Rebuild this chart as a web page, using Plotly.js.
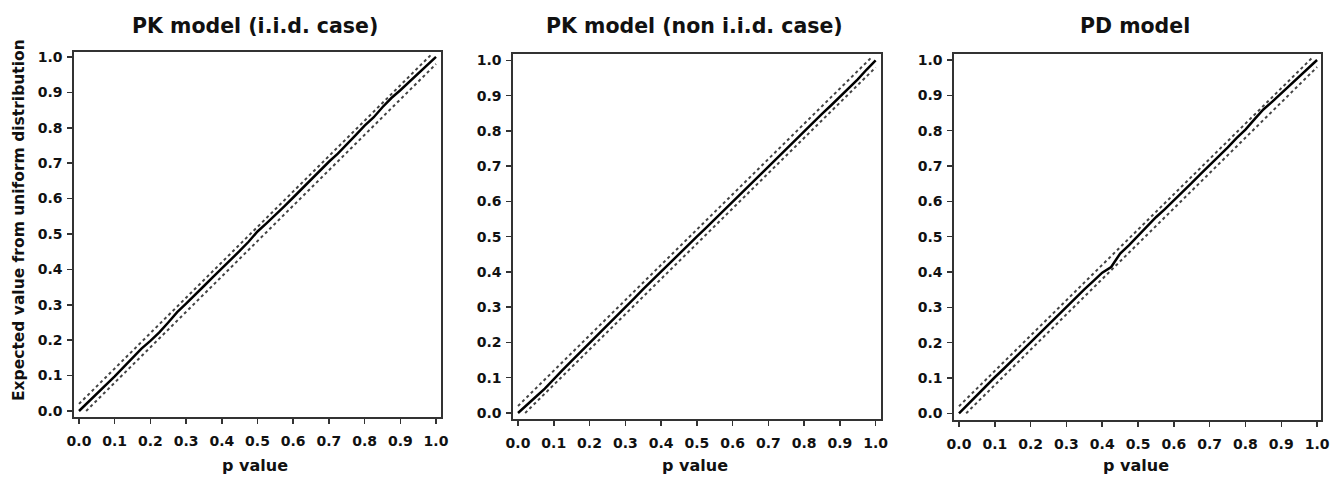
<!DOCTYPE html>
<html>
<head>
<meta charset="utf-8">
<script src="https://cdn.plot.ly/plotly-3.0.1.min.js"></script>
<style>html,body{margin:0;padding:0;background:#fff;}#chart{width:1338px;height:479px;}</style>
</head>
<body>
<div id="chart"></div>
<script>
// ---- data ----
const panelTitles = ["PK model (i.i.d. case)", "PK model (non i.i.d. case)", "PD model"];
const xTitle = "p value";
const yTitle = "Expected value from uniform distribution";

const pValues = [0,0.025,0.05,0.075,0.1,0.125,0.15,0.175,0.2,0.225,0.25,0.275,0.3,0.325,0.35,0.375,0.4,0.425,0.45,0.475,0.5,0.525,0.55,0.575,0.6,0.625,0.65,0.675,0.7,0.725,0.75,0.775,0.8,0.825,0.85,0.875,0.9,0.925,0.95,0.975,1];

const pkIid = [0,0.024,0.049,0.073,0.098,0.124,0.150,0.176,0.198,0.222,0.250,0.279,0.303,0.327,0.353,0.378,0.402,0.426,0.452,0.478,0.507,0.530,0.553,0.578,0.603,0.629,0.653,0.679,0.704,0.727,0.752,0.779,0.806,0.829,0.858,0.884,0.906,0.929,0.953,0.976,1.0];

const pkNonIid = [0,0.022,0.046,0.069,0.097,0.122,0.148,0.173,0.198,0.224,0.249,0.274,0.299,0.325,0.351,0.376,0.402,0.428,0.451,0.475,0.500,0.524,0.549,0.575,0.600,0.625,0.650,0.676,0.701,0.725,0.750,0.775,0.799,0.823,0.848,0.872,0.897,0.920,0.946,0.974,1.0];

const pdModel = [0,0.026,0.052,0.077,0.102,0.126,0.151,0.176,0.202,0.227,0.253,0.278,0.302,0.326,0.351,0.374,0.398,0.414,0.452,0.476,0.503,0.530,0.555,0.578,0.602,0.628,0.652,0.678,0.703,0.726,0.752,0.779,0.803,0.832,0.860,0.882,0.906,0.929,0.953,0.976,1.0];

const upperX = [0, 0.99];
const upperY = [0.02, 1.01];
const lowerX = [0.02, 1.0];
const lowerY = [0, 0.98];

const tickVals = [0,0.1,0.2,0.3,0.4,0.5,0.6,0.7,0.8,0.9,1.0];
const tickLabels = ["0.0","0.1","0.2","0.3","0.4","0.5","0.6","0.7","0.8","0.9","1.0"];

// ---- layout geometry (pixels) ----
const W = 1338, H = 479;
const panels = [
  {l:74, r:441, t:52, b:417, xr:[-0.014,1.014], yr:[-0.017,1.014], series:pkIid},
  {l:513, r:881, t:54, b:419, xr:[-0.014,1.015], yr:[-0.017,1.018], series:pkNonIid},
  {l:954, r:1321, t:54, b:420, xr:[-0.014,1.011], yr:[-0.019,1.017], series:pdModel}
];

const FONT = "DejaVu Sans, Arial, sans-serif";
const traces = [];
const layout = {
  width: W, height: H,
  margin: {l:0, r:0, t:0, b:0},
  paper_bgcolor: "#fff", plot_bgcolor: "#fff",
  showlegend: false,
  font: {family: FONT, color: "#111"},
  annotations: []
};

panels.forEach((p, i) => {
  const n = i === 0 ? "" : String(i + 1);
  const xa = "x" + n, ya = "y" + n;
  traces.push({x: upperX, y: upperY, xaxis: xa, yaxis: ya, mode: "lines",
    line: {color: "#444", width: 2, dash: "dot"}, hoverinfo: "skip"});
  traces.push({x: lowerX, y: lowerY, xaxis: xa, yaxis: ya, mode: "lines",
    line: {color: "#444", width: 2, dash: "dot"}, hoverinfo: "skip"});
  traces.push({x: pValues, y: p.series, xaxis: xa, yaxis: ya, mode: "lines",
    line: {color: "#000", width: 2.5}});

  const axCommon = {
    showline: true, mirror: true, linecolor: "#333", linewidth: 1.6,
    ticks: "outside", ticklen: 5, tickwidth: 1.5, tickcolor: "#333",
    showgrid: false, zeroline: false, tickvals: tickVals, ticktext: tickLabels,
    tickfont: {family: FONT, size: 14, color: "#111", weight: "bold"},
    fixedrange: true
  };
  layout["xaxis" + n] = Object.assign({}, axCommon, {
    domain: [p.l / W, p.r / W], range: p.xr, anchor: ya,
    ticklabelstandoff: 6
  });
  layout["yaxis" + n] = Object.assign({}, axCommon, {
    domain: [1 - p.b / H, 1 - p.t / H], range: p.yr, anchor: xa,
    ticklabelstandoff: 2
  });

  const cx = (p.l + p.r) / 2 - 3;
  layout.annotations.push({
    text: "<b>" + panelTitles[i] + "</b>", xref: "paper", yref: "paper",
    x: cx / W, y: 1 - 26 / H, xanchor: "center", yanchor: "middle",
    showarrow: false, font: {family: FONT, size: 20.5, color: "#111"}
  });
  layout.annotations.push({
    text: "<b>" + xTitle + "</b>", xref: "paper", yref: "paper",
    x: (cx + 1) / W, y: 1 - 465 / H, xanchor: "center", yanchor: "middle",
    showarrow: false, font: {family: FONT, size: 16, color: "#111"}
  });
});

layout.annotations.push({
  text: "<b>" + yTitle + "</b>", xref: "paper", yref: "paper",
  x: 19 / W, y: 1 - 220 / H, xanchor: "center", yanchor: "middle", textangle: -90,
  showarrow: false, font: {family: FONT, size: 15.5, color: "#111"}
});

Plotly.newPlot("chart", traces, layout, {staticPlot: true, displayModeBar: false});
</script>
</body>
</html>
